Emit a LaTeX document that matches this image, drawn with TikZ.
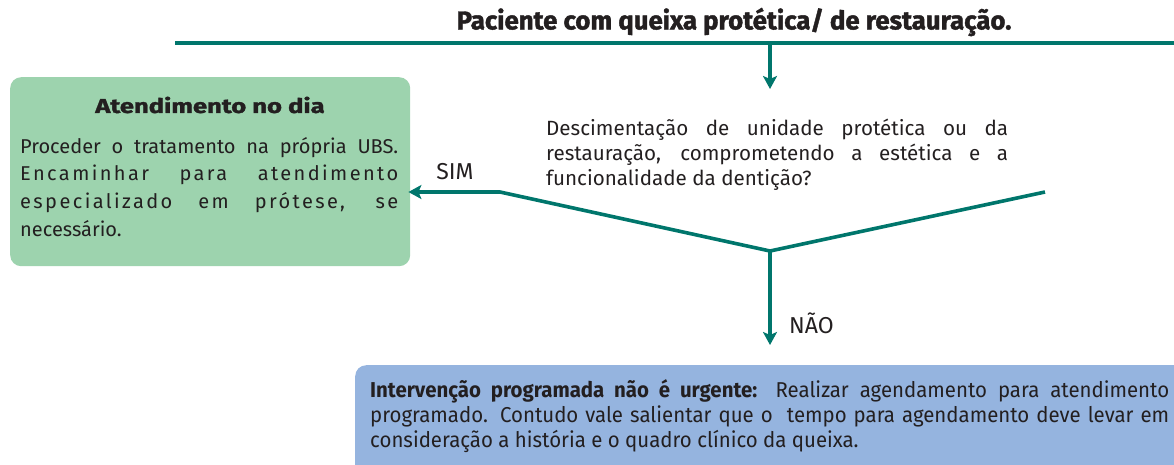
\documentclass[tikz,border=0pt]{standalone}
\usepackage{fontspec}
\setmainfont{Fira Sans}
\newfontfamily\heavyf[FakeBold=1.6]{Fira Sans}
\newfontfamily\widef[FakeStretch=1.28,FakeBold=1.6]{Fira Sans}
\newfontfamily\narrowf[FakeStretch=0.95]{Fira Sans}
\usetikzlibrary{arrows.meta}
\definecolor{lineteal}{HTML}{00766C}
\definecolor{boxgreen}{HTML}{9DD3AE}
\definecolor{boxblue}{HTML}{95B4DF}
\definecolor{txt}{HTML}{231F20}
\newcommand{\spaced}[1]{{\addfontfeature{LetterSpace=12}#1}}
\tikzset{
  conn/.style={draw=lineteal, line width=3.6pt},
  arr/.style={conn, -{Stealth[length=13pt,width=14pt,inset=3pt]}},
  greenbox/.style={fill=boxgreen, rounded corners=11pt, anchor=north west, inner sep=0pt},
  bluebox/.style={fill=boxblue, rounded corners=11pt, anchor=north west, inner sep=0pt},
  body/.style={text=txt, inner sep=0pt, font=\fontsize{20}{27.6}\selectfont},
  lbl/.style={text=txt, inner sep=0pt, font=\fontsize{23}{26}\selectfont},
}
\begin{document}
\begin{tikzpicture}[x=1pt,y=-1pt]
\useasboundingbox (0,0) rectangle (1174,464);
\clip (0,0) rectangle (1174,464);
% title
\node[text=txt, font=\heavyf\bfseries\fontsize{25.8}{28}\selectfont, inner sep=0pt] (title) at (734,22) {Paciente com queixa protética/ de restauração.};
\coordinate (hl) at (175,43);
\coordinate (hr) at (1180,43);
\draw[conn] (hl) -- (hr);
\coordinate (top) at (770,43);
\coordinate (topend) at (770,89);
\draw[arr] (top) -- (topend);
% green box
\node[greenbox, minimum width=400pt, minimum height=189pt] (atend) at (10,77) {};
\node[text=txt, font=\widef\bfseries\fontsize{20}{22}\selectfont, inner sep=0pt] (atitle) at (210,105) {Atendimento no dia};
\node[body, anchor=north west, text width=378pt, align=justify] (abody) at (20,137)
 {Proceder o tratamento na própria UBS.\linebreak \spaced{Encaminhar para atendimento}\linebreak \spaced{especializado em prótese, se}\linebreak necessário.};
% question
\node[body, anchor=north west, text width=462pt, align=justify, font=\fontsize{20.6}{25}\selectfont] (q) at (546,119)
 {Descimentação de unidade protética ou da\linebreak restauração, comprometendo a estética e a\linebreak funcionalidade da dentição?};
% V connector
\coordinate (vr) at (1045,192);
\coordinate (vb) at (770,251);
\coordinate (vl) at (500,192);
\draw[conn] (vr) -- (vb);
\draw[arr, line join=miter] (vb) -- (vl) -- ([xshift=-2pt]atend.east |- vl);
\node[lbl] (sim) at (455,172) {SIM};
% blue box
\node[bluebox, minimum width=840pt, minimum height=120pt] (prog) at (355,365) {};
\draw[arr] (vb) -- ([yshift=20pt]prog.north -| vb);
\node[lbl, anchor=west] (nao) at (789,323) {NÃO};
\node[body, anchor=north west, text width=799pt, align=justify, font=\narrowf\fontsize{21.5}{25}\selectfont] (ptext) at (370,379)
 {\textbf{Intervenção programada não é urgente:} Realizar agendamento para atendimento\linebreak
 programado. Contudo vale salientar que o\ \ tempo para agendamento deve levar em\linebreak
 consideração a história e o quadro clínico da queixa.};
\end{tikzpicture}
\end{document}
